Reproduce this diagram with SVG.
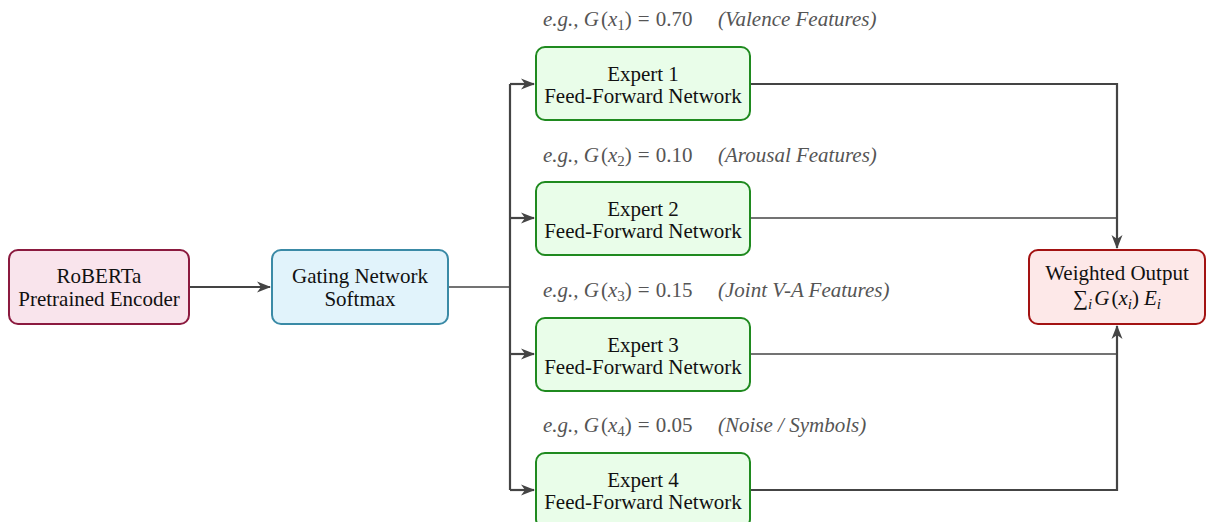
<svg xmlns="http://www.w3.org/2000/svg" width="1208" height="522" viewBox="0 0 1208 522">
<style>
.t{font-family:"Liberation Serif","Times New Roman",serif;font-size:21px;fill:#111;text-anchor:middle}
.lab{font-family:"Liberation Serif","Times New Roman",serif;font-size:21px;fill:#555}
.it{font-style:italic}
.sub{font-size:15px}
.ln{fill:none;stroke:#444;stroke-linejoin:miter}
.thick{stroke-width:2.2}
.thin{stroke-width:1.4}
.exp rect{fill:#e9fde9;stroke:#1f8a1f;stroke-width:2}
</style>
<defs>
<marker id="ah" markerUnits="userSpaceOnUse" markerWidth="16" markerHeight="12" refX="13" refY="6" orient="auto" viewBox="0 0 16 12">
<path d="M0,0.5 L14,6 L0,11.5 L4,6 Z" fill="#444"/>
</marker>
</defs>
<g id="connectors">
<path class="ln thick" d="M189,287 H270" marker-end="url(#ah)"/>
<path class="ln thin" d="M448,287 H510"/>
<path class="ln thick" d="M510,84 V490"/>
<path class="ln thick" d="M510,84 H534" marker-end="url(#ah)"/>
<path class="ln thick" d="M510,218 H534" marker-end="url(#ah)"/>
<path class="ln thick" d="M510,354 H534" marker-end="url(#ah)"/>
<path class="ln thick" d="M510,490 H534" marker-end="url(#ah)"/>
<path class="ln thick" d="M750,84 H1117 V248" marker-end="url(#ah)"/>
<path class="ln thin" d="M750,218 H1117"/>
<path class="ln thin" d="M750,354 H1117"/>
<path class="ln thick" d="M750,490 H1117 V326" marker-end="url(#ah)"/>
</g>
<g id="encoder">
<rect x="9" y="250" width="180" height="74" rx="9" fill="#f9e4ec" stroke="#8b1a3f" stroke-width="2"/>
<text class="t" x="99" y="283">RoBERTa</text>
<text class="t" x="99" y="306">Pretrained Encoder</text>
</g>
<g id="gating">
<rect x="272" y="250" width="176" height="74" rx="9" fill="#e1f3fb" stroke="#3a8aa6" stroke-width="2"/>
<text class="t" x="360" y="283">Gating Network</text>
<text class="t" x="360" y="306">Softmax</text>
</g>
<g id="expert1" class="exp">
<rect x="536" y="47" width="214" height="73" rx="9"/>
<text class="t" x="643" y="81">Expert 1</text>
<text class="t" x="643" y="103">Feed-Forward Network</text>
</g>
<g id="expert2" class="exp">
<rect x="536" y="182" width="214" height="73" rx="9"/>
<text class="t" x="643" y="216">Expert 2</text>
<text class="t" x="643" y="238">Feed-Forward Network</text>
</g>
<g id="expert3" class="exp">
<rect x="536" y="318" width="214" height="73" rx="9"/>
<text class="t" x="643" y="352">Expert 3</text>
<text class="t" x="643" y="374">Feed-Forward Network</text>
</g>
<g id="expert4" class="exp">
<rect x="536" y="453" width="214" height="75" rx="9"/>
<text class="t" x="643" y="487">Expert 4</text>
<text class="t" x="643" y="509">Feed-Forward Network</text>
</g>
<g id="output">
<rect x="1029" y="250" width="176" height="74" rx="9" fill="#fde8e8" stroke="#a31212" stroke-width="2"/>
<text class="t" x="1117" y="305">∑<tspan class="it sub" dy="4">i</tspan><tspan dy="-4" dx="2" class="it">G</tspan><tspan dx="2">(</tspan><tspan class="it">x</tspan><tspan class="it sub" dy="4">i</tspan><tspan dy="-4">)</tspan><tspan class="it" dx="5">E</tspan><tspan class="it sub" dy="4">i</tspan></text>
<text class="t" x="1117" y="280">Weighted Output</text>
</g>
<g id="labels">
<text class="lab" x="543" y="26"><tspan class="it">e.g.,</tspan> <tspan class="it">G</tspan><tspan dx="2">(</tspan><tspan class="it">x</tspan><tspan class="sub" dy="4">1</tspan><tspan dy="-4">)</tspan><tspan dx="6">=</tspan><tspan dx="6">0.70</tspan></text>
<text class="lab it" x="718" y="26">(Valence Features)</text>
<text class="lab" x="543" y="162"><tspan class="it">e.g.,</tspan> <tspan class="it">G</tspan><tspan dx="2">(</tspan><tspan class="it">x</tspan><tspan class="sub" dy="4">2</tspan><tspan dy="-4">)</tspan><tspan dx="6">=</tspan><tspan dx="6">0.10</tspan></text>
<text class="lab it" x="718" y="162">(Arousal Features)</text>
<text class="lab" x="543" y="297"><tspan class="it">e.g.,</tspan> <tspan class="it">G</tspan><tspan dx="2">(</tspan><tspan class="it">x</tspan><tspan class="sub" dy="4">3</tspan><tspan dy="-4">)</tspan><tspan dx="6">=</tspan><tspan dx="6">0.15</tspan></text>
<text class="lab it" x="718" y="297">(Joint V-A Features)</text>
<text class="lab" x="543" y="432"><tspan class="it">e.g.,</tspan> <tspan class="it">G</tspan><tspan dx="2">(</tspan><tspan class="it">x</tspan><tspan class="sub" dy="4">4</tspan><tspan dy="-4">)</tspan><tspan dx="6">=</tspan><tspan dx="6">0.05</tspan></text>
<text class="lab it" x="718" y="432">(Noise / Symbols)</text>
</g>
</svg>
